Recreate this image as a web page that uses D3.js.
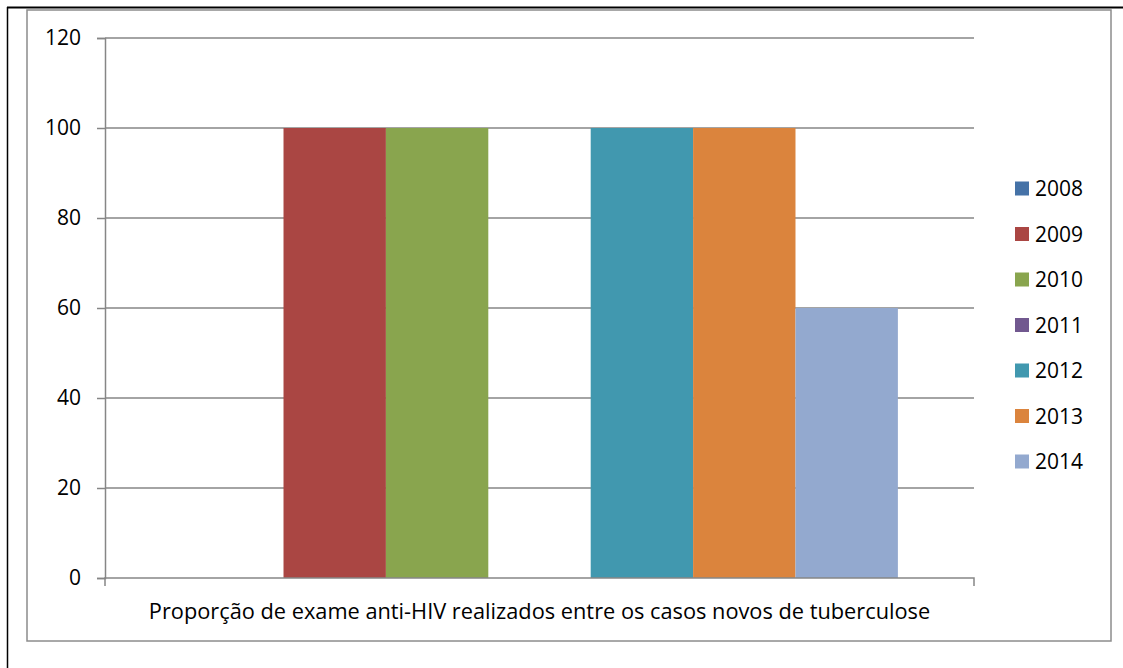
<!DOCTYPE html>
<html><head><meta charset="utf-8">
<script src="https://cdn.jsdelivr.net/npm/d3@7"></script>
<style>body{margin:0;background:#fff}svg{display:block}</style>
</head><body>
<svg id="c" width="1123" height="668"></svg>
<script>
const categories = ["Proporção de exame anti-HIV realizados entre os casos novos de tuberculose"];
const seriesNames = ["2008","2009","2010","2011","2012","2013","2014"];
const seriesValues = [0, 100, 100, 0, 100, 100, 60];
const seriesColors = ["#4572A7","#AA4643","#89A54E","#71588F","#4198AF","#DB843D","#93A9CF"];
const yTicks = [0,20,40,60,80,100,120];

const svg = d3.select("#c");
const font = "'Open Sans', 'Noto Sans', sans-serif";
const W = 1123, H = 668;
const m = {left:105, right:974, top:38, bottom:578};

// outer page border lines
svg.append("line").attr("x1",7).attr("x2",W).attr("y1",7.5).attr("y2",7.5).attr("stroke","#000").attr("stroke-width",2);
svg.append("line").attr("x1",7.5).attr("x2",7.5).attr("y1",7).attr("y2",H).attr("stroke","#000").attr("stroke-width",1.5);
// chart area border
svg.append("rect").attr("x",27).attr("y",10).attr("width",1111-27).attr("height",641-10)
  .attr("fill","none").attr("stroke","#8c8c8c").attr("stroke-width",1.5);

const y = d3.scaleLinear().domain([0,120]).range([m.bottom,m.top]);
const x0 = d3.scaleBand().domain(categories).range([m.left,m.right]).paddingInner(0.096).paddingOuter(0.096);
const x1 = d3.scaleBand().domain(seriesNames).range([0,x0.bandwidth()]);

// gridlines
svg.append("g").selectAll("line").data(yTicks.filter(t=>t>0)).join("line")
  .attr("x1",m.left).attr("x2",m.right).attr("y1",d=>y(d)).attr("y2",d=>y(d))
  .attr("stroke","#868686").attr("stroke-width",1.5);

// bars
const g = svg.append("g");
categories.forEach(c=>{
  g.selectAll("rect.b").data(seriesNames.map((s,i)=>({s,v:seriesValues[i],c:seriesColors[i]}))).join("rect")
    .attr("class","b")
    .attr("x",d=>x0(c)+x1(d.s)).attr("width",x1.bandwidth())
    .attr("y",d=>y(d.v)).attr("height",d=>m.bottom-y(d.v))
    .attr("fill",d=>d.c);
});

// y axis
const ya = svg.append("g").attr("transform",`translate(${m.left},0)`)
  .call(d3.axisLeft(y).tickValues(yTicks).tickSize(8).tickPadding(16).tickFormat(d3.format("d")));
ya.select(".domain").attr("stroke","#868686").attr("stroke-width",1.5);
ya.selectAll(".tick line").attr("stroke","#868686").attr("stroke-width",1.5);
ya.selectAll("text").attr("font-family",font).attr("font-size",21).attr("fill","#000");

// x axis
const xa = svg.append("g").attr("transform",`translate(0,${m.bottom})`)
  .call(d3.axisBottom(x0).tickSize(0).tickPadding(0).tickFormat(()=>""));
xa.select(".domain").attr("stroke","#868686").attr("stroke-width",1.5).attr("d",`M${m.left},8V0H${m.right}V8`);
const xl = svg.append("text").attr("x",(m.left+m.right)/2).attr("y",619).attr("text-anchor","middle")
  .attr("font-family",font).attr("font-size",20).attr("fill","#000").text(categories[0]);
// fit label to reference width
const wl = xl.node().getComputedTextLength();
xl.attr("font-size", 20*782/wl);

// legend
const lg = svg.append("g");
seriesNames.forEach((s,i)=>{
  const yy = 188.5 + i*45.5;
  lg.append("rect").attr("x",1015).attr("y",yy-7).attr("width",14).attr("height",14).attr("fill",seriesColors[i]);
  lg.append("text").attr("x",1035).attr("y",yy).attr("dy","0.36em").attr("font-family",font).attr("font-size",21).attr("fill","#000").text(s);
});
</script>
</body></html>
